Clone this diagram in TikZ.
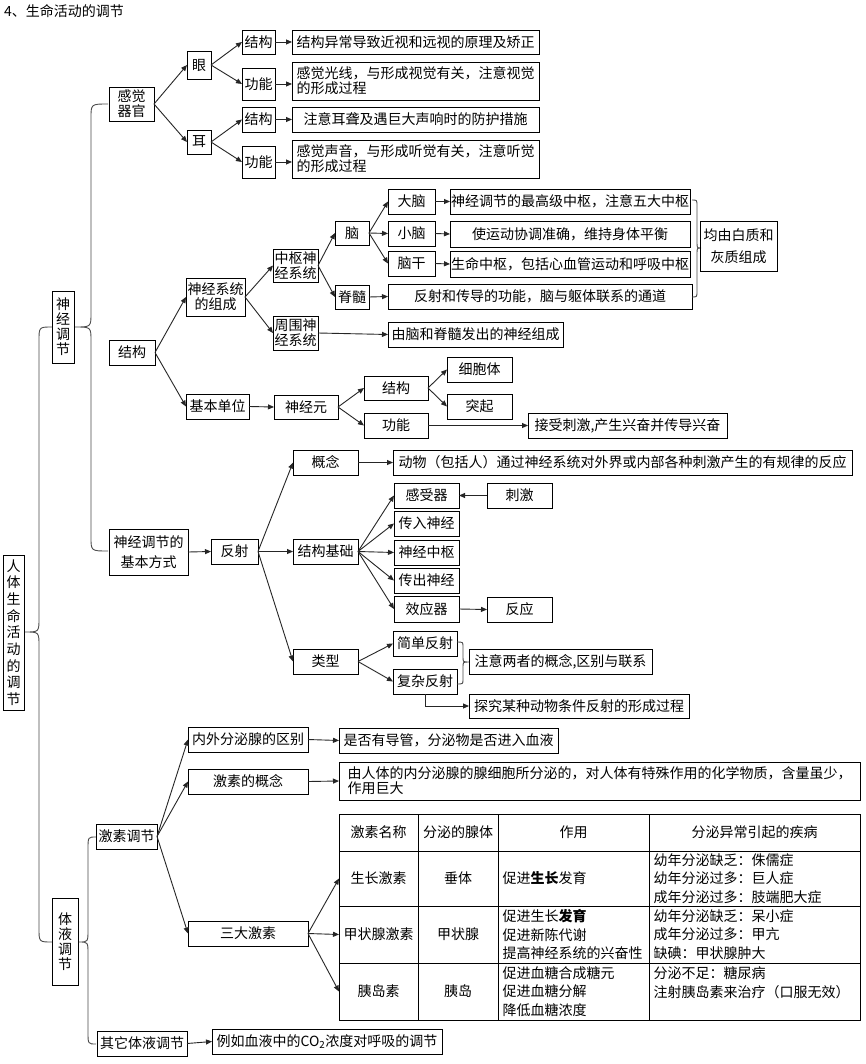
\documentclass[tikz,border=0pt]{standalone}
\usepackage{fontspec}
\setmainfont{Noto Sans CJK SC}
\usetikzlibrary{arrows.meta}
\newcommand\fs{\fontsize{14}{15}\selectfont}
\newcommand\mkbox[7][]{\node[bx,minimum width={(#5)-(#3)},minimum height={(#6)-(#4)},#1] (#2) at ({((#3)+(#5))/2},{((#4)+(#6))/2}) {#7};}
\newcommand\vbrace[7]{\draw[brc] (#1,#4) .. controls (#2,#4) .. ({#2},{#4+#7}) -- ({#2},{#5-#7}) .. controls (#2,#5) .. (#3,#5) .. controls (#2,#5) .. ({#2},{#5+#7}) -- ({#2},{#6-#7}) .. controls (#2,#6) .. (#1,#6);}
\begin{document}
\begin{tikzpicture}[x=1pt,y=-1pt,
  bx/.style={draw=black, line width=0.9pt, inner sep=0pt, outer sep=0pt, align=center, font=\fs},
  arr/.style={draw=black!85, line width=0.9pt, -{Triangle[length=6pt,width=5pt]}},
  brc/.style={draw=black!70, line width=0.9pt},
  tab/.style={font=\fontsize{14}{18.8}\selectfont},
  lt/.style={align=left}]
\useasboundingbox[fill=white] (0,0) rectangle (865,1064);

\node[anchor=west, font=\fs, inner sep=0pt] (title) at (4,11) {4、生命活动的调节};

% root and main branches
\mkbox[font=\fontsize{14}{16.7}\selectfont]{root}{3}{555}{24}{710}{人\\体\\生\\命\\活\\动\\的\\调\\节}
\mkbox{sj}{52}{291}{74}{363}{神\\经\\调\\节}
\mkbox{ty}{52}{898}{78}{985}{体\\液\\调\\节}
\vbrace{52}{39}{25}{327}{632}{942}{14}
\vbrace{108}{91}{75}{104}{327}{551}{14}
\vbrace{96}{88}{79}{837}{942}{1044}{12}

% sense organs
\mkbox{gg}{109}{87}{154}{121}{感觉\\器官}
\mkbox{yan}{187}{51}{211}{79}{眼}
\mkbox{er}{187}{130}{211}{154}{耳}
\mkbox{yj}{242}{30}{275}{54}{结构}
\mkbox{yg}{242}{68}{275}{100}{功能}
\mkbox{ej}{242}{107}{275}{132}{结构}
\mkbox{eg}{242}{146}{275}{178}{功能}
\mkbox{t1}{292}{30}{539}{54}{结构异常导致近视和远视的原理及矫正}
\mkbox[lt]{t2}{292}{62}{539}{100}{感觉光线，与形成视觉有关，注意视觉\\的形成过程}
\mkbox{t3}{292}{107}{539}{132}{注意耳聋及遇巨大声响时的防护措施}
\mkbox[lt]{t4}{292}{140}{539}{178}{感觉声音，与形成听觉有关，注意听觉\\的形成过程}
\draw[arr] (gg.east) -- (yan.west);
\draw[arr] (gg.east) -- (er.west);
\draw[arr] (yan.east) -- (yj.west);
\draw[arr] (yan.east) -- (yg.west);
\draw[arr] (er.east) -- (ej.west);
\draw[arr] (er.east) -- (eg.west);
\draw[arr] (yj.east) -- (t1.west);
\draw[arr] (yg.east) -- (yg.east -| t2.west);
\draw[arr] (ej.east) -- (t3.west);
\draw[arr] (eg.east) -- (eg.east -| t4.west);

% structure of the nervous system
\mkbox{jg}{109}{340}{155}{365}{结构}
\mkbox{zc}{186}{278}{245}{316}{神经系统\\的组成}
\mkbox{zs}{273}{249}{318}{282}{中枢神\\经系统}
\mkbox{zw}{273}{316}{318}{350}{周围神\\经系统}
\mkbox{nao}{335}{221}{369}{245}{脑}
\mkbox{jsui}{335}{285}{369}{309}{脊髓}
\mkbox{dn}{388}{189}{435}{214}{大脑}
\mkbox{xn}{388}{221}{435}{246}{小脑}
\mkbox{ngan}{388}{251}{435}{276}{脑干}
\mkbox{dnt}{450}{189}{690}{214}{神经调节的最高级中枢，注意五大中枢}
\mkbox{xnt}{450}{221}{690}{247}{使运动协调准确，维持身体平衡}
\mkbox{ngt}{450}{251}{690}{277}{生命中枢，包括心血管运动和呼吸中枢}
\mkbox{jst}{388}{284}{692}{309}{反射和传导的功能，脑与躯体联系的通道}
\vbrace{692}{697}{701}{200}{248}{297}{6}
\mkbox[font=\fontsize{14}{22}\selectfont]{jz}{700}{221}{777}{271}{均由白质和\\灰质组成}
\mkbox{zwt}{388}{322}{563}{347}{由脑和脊髓发出的神经组成}
\mkbox{jb}{186}{394}{249}{419}{基本单位}
\mkbox{sjy}{274}{395}{338}{419}{神经元}
\mkbox{nj}{364}{376}{428}{400}{结构}
\mkbox{ngn}{364}{413}{428}{438}{功能}
\mkbox{xbt}{447}{357}{512}{382}{细胞体}
\mkbox{tq}{447}{394}{512}{419}{突起}
\mkbox{jsc}{528}{413}{727}{438}{接受刺激,产生兴奋并传导兴奋}
\draw[arr] (jg.east) -- (zc.west);
\draw[arr] (jg.east) -- (jb.west);
\draw[arr] (zc.east) -- (zs.west);
\draw[arr] (zc.east) -- (zw.west);
\draw[arr] (zs.east) -- (nao.west);
\draw[arr] (zs.east) -- (jsui.west);
\draw[arr] (nao.east) -- (dn.west);
\draw[arr] (nao.east) -- (xn.west);
\draw[arr] (nao.east) -- (ngan.west);
\draw[arr] (dn.east) -- (dnt.west);
\draw[arr] (xn.east) -- (xnt.west);
\draw[arr] (ngan.east) -- (ngt.west);
\draw[arr] (jsui.east) -- (jst.west);
\draw[arr] (zw.east) -- (zwt.west);
\draw[arr] (jb.east) -- (sjy.west);
\draw[arr] (sjy.east) -- (nj.west);
\draw[arr] (sjy.east) -- (ngn.west);
\draw[arr] (nj.east) -- (xbt.west);
\draw[arr] (nj.east) -- (tq.west);
\draw[arr] (ngn.east) -- (jsc.west);

% reflex
\mkbox[font=\fontsize{14}{20}\selectfont]{fs}{109}{529}{188}{575}{神经调节的\\基本方式}
\mkbox{fsh}{211}{539}{258}{564}{反射}
\mkbox{gn}{293}{450}{358}{475}{概念}
\mkbox{jgjc}{293}{539}{358}{564}{结构基础}
\mkbox{lx}{293}{649}{358}{674}{类型}
\mkbox{gnt}{393}{450}{852}{475}{动物（包括人）通过神经系统对外界或内部各种刺激产生的有规律的反应}
\mkbox{gsq}{394}{483}{459}{508}{感受器}
\mkbox{cj}{487}{483}{552}{508}{刺激}
\mkbox{crsj}{394}{511}{459}{536}{传入神经}
\mkbox{sjzs}{394}{540}{459}{565}{神经中枢}
\mkbox{ccsj}{394}{568}{459}{593}{传出神经}
\mkbox{xyq}{394}{596}{459}{622}{效应器}
\mkbox{fy}{487}{597}{552}{622}{反应}
\mkbox{jd}{393}{631}{457}{656}{简单反射}
\mkbox{fz}{393}{669}{457}{694}{复杂反射}
\vbrace{457}{463}{469}{642}{662}{684}{5}
\mkbox{zy}{469}{649}{652}{674}{注意两者的概念,区别与联系}
\mkbox{tj}{469}{694}{689}{718}{探究某种动物条件反射的形成过程}
\draw[arr] (fs.east) -- (fsh.west);
\draw[arr] (fsh.east) -- (gn.west);
\draw[arr] (fsh.east) -- (jgjc.west);
\draw[arr] (fsh.east) -- (lx.west);
\draw[arr] (gn.east) -- (gnt.west);
\draw[arr] (jgjc.east) -- (gsq.west);
\draw[arr] (jgjc.east) -- (crsj.west);
\draw[arr] (jgjc.east) -- (sjzs.west);
\draw[arr] (jgjc.east) -- (ccsj.west);
\draw[arr] (jgjc.east) -- (xyq.west);
\draw[arr] (cj.west) -- (gsq.east);
\draw[arr] (xyq.east) -- (fy.west);
\draw[arr] (lx.east) -- (jd.west);
\draw[arr] (lx.east) -- (fz.west);
\draw[arr] (fz.south) |- (tj.west);

% humoral regulation
\mkbox{jstj}{96}{824}{157}{849}{激素调节}
\mkbox{nw}{188}{727}{308}{752}{内外分泌腺的区别}
\mkbox{jsgn}{188}{769}{308}{794}{激素的概念}
\mkbox{sd}{188}{921}{308}{946}{三大激素}
\mkbox{qt}{97}{1031}{187}{1056}{其它体液调节}
\mkbox{lr}{212}{1029}{442}{1054}{例如血液中的CO\textsubscript{2}浓度对呼吸的调节}
\mkbox{sf}{339}{728}{558}{753}{是否有导管，分泌物是否进入血液}
\mkbox[lt]{yrt}{339}{762}{860}{800}{由人体的内分泌腺的腺细胞所分泌的，对人体有特殊作用的化学物质，含量虽少，\\作用巨大}
\draw[arr] (jstj.east) -- (nw.west);
\draw[arr] (jstj.east) -- (jsgn.west);
\draw[arr] (jstj.east) -- (sd.west);
\draw[arr] (nw.east) -- (sf.west);
\draw[arr] (jsgn.east) -- (yrt.west);
\draw[arr] (qt.east) -- (lr.west);

% table
\mkbox{h1}{339}{814}{418}{851}{激素名称}
\mkbox{h2}{418}{814}{498}{851}{分泌的腺体}
\mkbox{h3}{498}{814}{649}{851}{作用}
\mkbox{h4}{649}{814}{860}{851}{分泌异常引起的疾病}
\mkbox{c11}{339}{851}{418}{906}{生长激素}
\mkbox{c12}{418}{851}{498}{906}{垂体}
\mkbox[tab,lt,text width=142]{c13}{498}{851}{649}{906}{促进\textbf{生长}发育}
\mkbox[tab,lt,text width=202]{c14}{649}{851}{860}{906}{幼年分泌缺乏：侏儒症\\幼年分泌过多：巨人症\\成年分泌过多：肢端肥大症}
\mkbox{c21}{339}{906}{418}{963}{甲状腺激素}
\mkbox{c22}{418}{906}{498}{963}{甲状腺}
\mkbox[tab,lt,text width=142]{c23}{498}{906}{649}{963}{促进生长\textbf{发育}\\促进新陈代谢\\提高神经系统的兴奋性}
\mkbox[tab,lt,text width=202]{c24}{649}{906}{860}{963}{幼年分泌缺乏：呆小症\\成年分泌过多：甲亢\\缺碘：甲状腺肿大}
\mkbox{c31}{339}{963}{418}{1020}{胰岛素}
\mkbox{c32}{418}{963}{498}{1020}{胰岛}
\mkbox[tab,lt,text width=142]{c33}{498}{963}{649}{1020}{促进血糖合成糖元\\促进血糖分解\\降低血糖浓度}
\mkbox[tab,lt,text width=202]{c34}{649}{963}{860}{1020}{分泌不足：糖尿病\\注射胰岛素来治疗（口服无效）\\\mbox{}}
\draw[arr] (sd.east) -- (c11.west);
\draw[arr] (sd.east) -- (c21.west);
\draw[arr] (sd.east) -- (c31.west);
\end{tikzpicture}
\end{document}
